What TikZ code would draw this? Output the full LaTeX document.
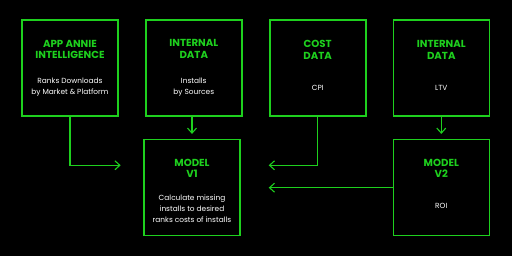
\documentclass[tikz,border=0pt]{standalone}
\usepackage{fontspec}
\setmainfont{Poppins}
\usetikzlibrary{arrows.meta}
\definecolor{appgreen}{RGB}{30,208,30}
\begin{document}
\begin{tikzpicture}[x=1pt, y=-1pt,
  box/.style={draw=appgreen, line width=1.6pt, minimum width=96pt, minimum height=96pt, inner sep=0pt},
  title/.style={text=appgreen, font=\fontsize{10.2}{11.6}\selectfont\bfseries, align=center, inner sep=0pt},
  body/.style={text=white, font=\fontsize{7.4}{11.2}\selectfont, align=center, inner sep=0pt},
  arr/.style={draw=appgreen, line width=1.1pt, -{Straight Barb[length=5pt, width=9pt]}}]

     % Fondo negro
     \fill[black] (0,0) rectangle (512,256);
     \useasboundingbox (0,0) rectangle (512,256);

     % Fuentes de datos en la fila superior
     \node[box] (annie) at (70,68.3) {};
     \node[box] (internal) at (193.8,68.3) {};
     \node[box] (cost) at (317.7,68.3) {};
     \node[box] (ltv) at (441.3,68.3) {};

     % Modelos en la fila inferior
     \node[box] (model1) at (192,187.7) {};
     \node[box] (model2) at (441.3,187.7) {};

     % Títulos
     \node[title] (annie_t) at (70,49.3) {APP ANNIE\\INTELLIGENCE};
     \node[title] (internal_t) at (193.8,48.7) {INTERNAL\\DATA};
     \node[title] (cost_t) at (317.7,49.7) {COST\\DATA};
     \node[title] (ltv_t) at (441.3,49.7) {INTERNAL\\DATA};
     \node[title] (model1_t) at (192,168.5) {MODEL\\V1};
     \node[title] (model2_t) at (441.3,168.5) {MODEL\\V2};

     % Textos descriptivos
     \node[body] (annie_b) at (70,87.5) {Ranks Downloads\\by Market \& Platform};
     \node[body] (internal_b) at (193.8,87.5) {Installs\\by Sources};
     \node[body] (cost_b) at (317.7,87.7) {CPI};
     \node[body] (ltv_b) at (441.3,87.7) {LTV};
     \node[body] (model1_b) at (192,209) {Calculate missing\\installs to desired\\ranks costs of installs};
     \node[body] (model2_b) at (441.3,206) {ROI};

     % Extremos libres de las flechas
     \coordinate (annie_end) at (120.7,165.3);
     \coordinate (cost_end) at (268.7,165.3);
     \coordinate (model2_end) at (268.7,187.7);

     % Flechas
     \draw[arr] (annie.south) |- (annie_end);
     \draw[arr] (internal.south -| model1.north) -- ([yshift=5pt]model1.north);
     \draw[arr] (cost.south) |- (cost_end);
     \draw[arr] (ltv.south) -- ([yshift=5pt]model2.north);
     \draw[arr] (model2.west) -- (model2_end);

   \end{tikzpicture}
\end{document}
